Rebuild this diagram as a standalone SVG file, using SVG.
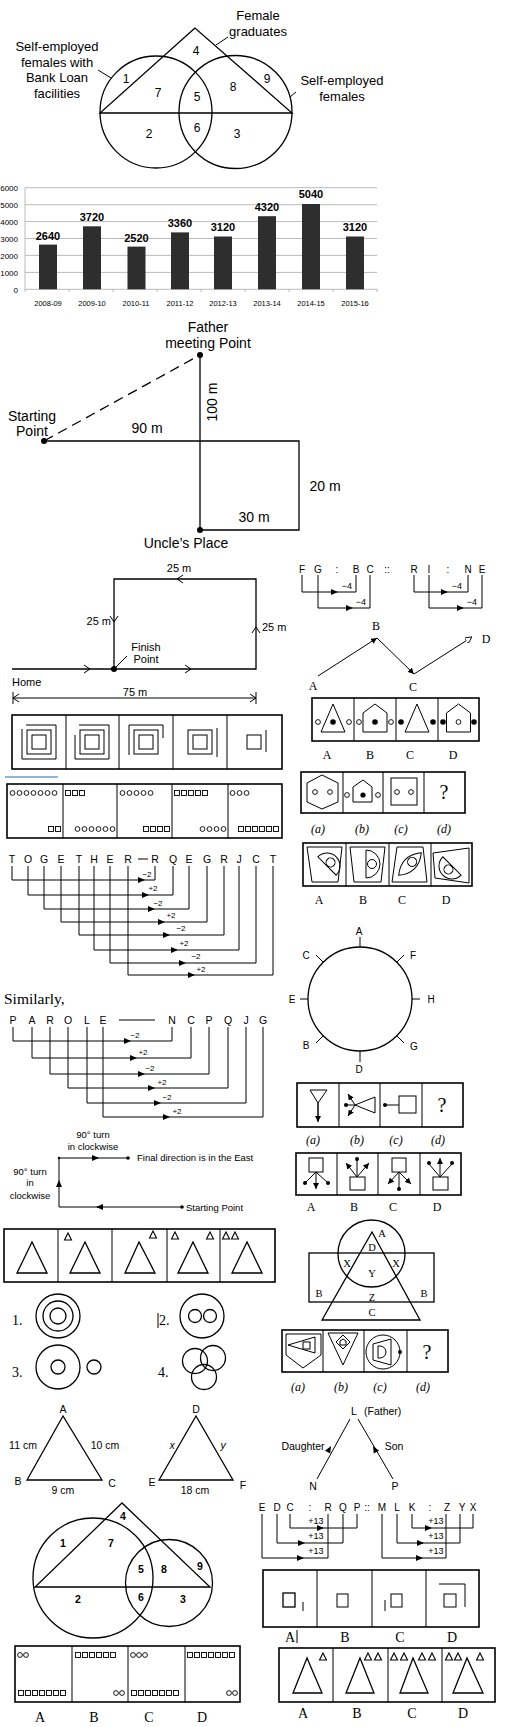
<svg xmlns="http://www.w3.org/2000/svg" width="505" height="1727" viewBox="0 0 505 1727">
<style>
.ln{fill:none;stroke:#000;stroke-width:1.3}
.th{fill:none;stroke:#000;stroke-width:1}
.bx{fill:none;stroke:#000;stroke-width:1.6}
.t{font-family:"Liberation Sans",Arial,sans-serif;fill:#000}
.s{font-family:"Liberation Serif","Times New Roman",serif;fill:#000}
.m{text-anchor:middle}
.e{text-anchor:end}
.grid{stroke:#aaa;stroke-width:0.8}
.bar{fill:#2e2e2e}
</style>
<defs>
<path id="ah" d="M0,0 L-7,-3 L-7,3 Z"/>
<path id="sd" d="M0,-4 L3.5,3 L-3.5,3 Z" fill="none" stroke="#000" stroke-width="1.1"/>
<circle id="oc" r="2.4" fill="none" stroke="#000" stroke-width="0.9"/>
<rect id="sq" x="-2.5" y="-2.5" width="5" height="5" fill="none" stroke="#000" stroke-width="0.9"/>
<marker id="mF" viewBox="0 0 10 10" refX="10" refY="5" markerWidth="6" markerHeight="6" orient="auto"><path d="M0,0 L10,5 L0,10 Z"/></marker>
<marker id="mO" viewBox="0 0 10 10" refX="10" refY="5" markerWidth="7" markerHeight="7" orient="auto"><path d="M0,0 L10,5 L0,10 Z" fill="#fff" stroke="#000" stroke-width="1.2"/></marker>
</defs>

<g id="venn1">
<polygon class="ln" points="195,28 100,113 292,113"/>
<circle class="ln" cx="156" cy="112" r="56"/>
<circle class="ln" cx="235.5" cy="112" r="56.5"/>
<line class="th" x1="216" y1="45" x2="228" y2="37"/>
<line class="th" x1="111" y1="78" x2="98" y2="70"/>
<line class="th" x1="290" y1="97" x2="296" y2="92"/>
<g class="t m" font-size="13">
<text x="258" y="20">Female</text><text x="258" y="36">graduates</text>
<text x="57" y="51">Self-employed</text><text x="57" y="67">females with</text><text x="57" y="82">Bank Loan</text><text x="57" y="98">facilities</text>
<text x="342" y="85">Self-employed</text><text x="342" y="101">females</text>
</g>
<g class="t m" font-size="12">
<text x="126" y="83">1</text><text x="158" y="97">7</text><text x="196" y="55">4</text><text x="197" y="101">5</text><text x="233" y="91">8</text><text x="267" y="83">9</text><text x="149" y="138">2</text><text x="197" y="132">6</text><text x="237" y="138">3</text>
</g>
</g>

<g id="barchart">
<g class="grid">
<line x1="25" y1="289.3" x2="377" y2="289.3"/><line x1="25" y1="272.4" x2="377" y2="272.4"/><line x1="25" y1="255.4" x2="377" y2="255.4"/><line x1="25" y1="238.5" x2="377" y2="238.5"/><line x1="25" y1="221.6" x2="377" y2="221.6"/><line x1="25" y1="204.7" x2="377" y2="204.7"/><line x1="25" y1="187.7" x2="377" y2="187.7"/>
<line x1="25" y1="187.7" x2="25" y2="292"/>
<path d="M69,289 V292 M113,289 V292 M157,289 V292 M201,289 V292 M245,289 V292 M289,289 V292 M333,289 V292 M377,289 V292"/>
</g>
<g class="t e" font-size="8" fill="#222">
<text x="18" y="191">6000</text><text x="18" y="207.5">5000</text><text x="18" y="224.5">4000</text><text x="18" y="241.5">3000</text><text x="18" y="258.5">2000</text><text x="18" y="275.5">1000</text><text x="18" y="292.5">0</text>
</g>
<g class="bar">
<rect x="39" y="244.6" width="18" height="44.7"/><rect x="83" y="226.3" width="18" height="63"/><rect x="127.5" y="246.6" width="18" height="42.7"/><rect x="171" y="232.4" width="18" height="56.9"/><rect x="214" y="236.5" width="18" height="52.8"/><rect x="258" y="216.2" width="18" height="73.1"/><rect x="302" y="204" width="18" height="85.3"/><rect x="346" y="236.5" width="18" height="52.8"/>
</g>
<g class="t m" font-size="11" font-weight="bold">
<text x="48" y="240">2640</text><text x="92" y="221">3720</text><text x="136.5" y="242">2520</text><text x="180" y="227">3360</text><text x="223" y="231">3120</text><text x="267" y="211">4320</text><text x="311" y="198">5040</text><text x="355" y="231">3120</text>
</g>
<g class="t m" font-size="7.5">
<text x="48" y="305.5">2008-09</text><text x="92" y="305.5">2009-10</text><text x="136" y="305.5">2010-11</text><text x="180" y="305.5">2011-12</text><text x="223" y="305.5">2012-13</text><text x="267" y="305.5">2013-14</text><text x="311" y="305.5">2014-15</text><text x="355" y="305.5">2015-16</text>
</g>
</g>

<g id="route1">
<path class="ln" d="M44,441 H299 V530 H200 M200,355 V530"/>
<line class="ln" x1="44" y1="441" x2="200" y2="355" stroke-dasharray="10,6"/>
<circle cx="44" cy="441" r="3"/><circle cx="200" cy="355" r="3"/><circle cx="200" cy="530" r="3"/>
<g class="t m" font-size="14">
<text x="208" y="332">Father</text><text x="208" y="348">meeting Point</text>
<text x="32" y="421">Starting</text><text x="32" y="436">Point</text>
<text x="147" y="433">90  m</text>
<text x="325" y="491">20  m</text><text x="254" y="522">30  m</text>
<text x="186" y="548">Uncle’s Place</text>
<text transform="translate(217,402) rotate(-90)">100  m</text>
</g>
</g>

<g id="route2">
<path class="ln" d="M12,669 H256 V579 H114 V669"/>
<circle cx="114" cy="669" r="3"/>
<polyline class="th" points="183,575 177,579 183,583"/>
<polyline class="th" points="110,616 114,622 118,616"/>
<polyline class="th" points="252,633 256,627 260,633"/>
<polyline class="th" points="84,665 90,669 84,673"/>
<polyline class="th" points="185,665 191,669 185,673"/>
<line class="th" x1="114" y1="669" x2="127" y2="656"/>
<path class="th" d="M13,698 H256 M13,692 V704 M256,692 V704"/>
<polyline class="th" points="19,694 13,698 19,702"/>
<polyline class="th" points="250,694 256,698 250,702"/>
<g class="t" font-size="11">
<text class="m" x="179" y="572">25 m</text>
<text class="e" x="111" y="625">25 m</text>
<text x="262" y="631">25 m</text>
<text class="m" x="146" y="651">Finish</text><text class="m" x="146" y="663">Point</text>
<text x="12" y="686">Home</text>
<text class="m" x="135" y="696">75 m</text>
</g>
</g>

<g id="analogy1">
<g class="t m" font-size="10" fill="#333">
<text x="302" y="573">F</text><text x="318" y="573">G</text><text x="337" y="573">:</text><text x="356" y="573">B</text><text x="370" y="573">C</text><text x="387" y="573">::</text><text x="414" y="573">R</text><text x="429" y="573">I</text><text x="448" y="573">:</text><text x="468" y="573">N</text><text x="482" y="573">E</text>
</g>
<path class="th" d="M302,575 V592 H356 V575 M318,575 V608 H370 V575 M414,575 V592 H468 V575 M429,575 V608 H482 V575"/>
<use href="#ah" x="338" y="592"/><use href="#ah" x="353" y="608"/><use href="#ah" x="448" y="592"/><use href="#ah" x="464" y="608"/>
<g class="t m" font-size="9">
<text x="347" y="589">−4</text><text x="361" y="605">−4</text><text x="457" y="589">−4</text><text x="472" y="605">−4</text>
</g>
</g>

<g id="zigzag">
<path class="th" d="M318,676 L377,638" marker-end="url(#mF)"/>
<path class="th" d="M377,638 L414,674" marker-end="url(#mF)"/>
<path class="th" d="M414,674 L472,637" marker-end="url(#mO)"/>
<g class="s m" font-size="12">
<text x="313" y="690">A</text><text x="376" y="630">B</text><text x="413" y="691">C</text><text x="486" y="643">D</text>
</g>
</g>

<g id="dotshapes">
<rect class="bx" x="312" y="698" width="167" height="43"/>
<path class="th" d="M354,698 V741 M396,698 V741 M438,698 V741"/>
<polygon class="th" points="333,704 321,732 345,732"/>
<use href="#oc" x="318" y="722"/><circle cx="333" cy="722" r="2.8"/><use href="#oc" x="349" y="722"/>
<polygon class="th" points="375,704 387,713 387,732 363,732 363,713"/>
<use href="#oc" x="359" y="722"/><circle cx="375" cy="722" r="2.8"/><use href="#oc" x="391" y="722"/>
<polygon class="th" points="417,704 405,732 429,732"/>
<circle cx="401" cy="722" r="2.8"/><circle cx="433" cy="722" r="2.8"/>
<polygon class="th" points="458.5,704 470.5,713 470.5,732 446.5,732 446.5,713"/>
<circle cx="443" cy="722" r="2.8"/><use href="#oc" x="458.5" y="722"/><circle cx="474" cy="722" r="2.8"/>
<g class="s m" font-size="12"><text x="327" y="759">A</text><text x="370" y="759">B</text><text x="410" y="759">C</text><text x="453" y="759">D</text></g>
</g>

<g id="spirals">
<rect class="bx" x="12" y="715" width="270" height="54"/>
<path class="th" d="M66,715 V769 M119,715 V769 M173,715 V769 M227,715 V769"/>
<g class="th">
<rect x="32" y="735" width="14" height="14"/><rect x="27" y="730" width="24" height="24"/><path d="M22,729 V759 H56 V725 H26"/>
<rect x="85" y="735" width="14" height="14"/><rect x="80" y="730" width="24" height="24"/><path d="M75,735 V759 H109 V725 H79"/>
<rect x="139" y="735" width="14" height="14"/><rect x="134" y="730" width="24" height="24"/><path d="M129,755 V725 H163 V738"/>
<rect x="193" y="735" width="14" height="14"/><rect x="188" y="730" width="24" height="24"/><path d="M217,728 V757"/>
<rect x="247" y="735" width="14" height="14"/><path d="M266,730 V752"/>
</g>
</g>

<line x1="5" y1="777" x2="58" y2="777" stroke="#8fb6d9" stroke-width="2"/>

<g id="dotrow1">
<rect class="bx" x="7" y="784" width="275" height="54"/>
<path class="th" d="M63,784 V838 M117,784 V838 M172,784 V838 M228,784 V838"/>
<use href="#oc" x="12.5" y="793"/><use href="#oc" x="19.5" y="793"/><use href="#oc" x="26.5" y="793"/><use href="#oc" x="33.5" y="793"/><use href="#oc" x="40.5" y="793"/><use href="#oc" x="47.5" y="793"/><use href="#oc" x="54.5" y="793"/>
<use href="#sq" x="51" y="829"/><use href="#sq" x="58" y="829"/>
<use href="#sq" x="68" y="793"/><use href="#sq" x="75" y="793"/><use href="#sq" x="82" y="793"/>
<use href="#oc" x="77.5" y="829"/><use href="#oc" x="84.5" y="829"/><use href="#oc" x="91.5" y="829"/><use href="#oc" x="98.5" y="829"/><use href="#oc" x="105.5" y="829"/><use href="#oc" x="112.5" y="829"/>
<use href="#oc" x="122.5" y="793"/><use href="#oc" x="129.5" y="793"/><use href="#oc" x="136.5" y="793"/><use href="#oc" x="143.5" y="793"/><use href="#oc" x="150.5" y="793"/>
<use href="#sq" x="146" y="829"/><use href="#sq" x="153" y="829"/><use href="#sq" x="160" y="829"/><use href="#sq" x="167" y="829"/>
<use href="#sq" x="177" y="793"/><use href="#sq" x="184" y="793"/><use href="#sq" x="191" y="793"/><use href="#sq" x="198" y="793"/><use href="#sq" x="205" y="793"/>
<use href="#oc" x="202.5" y="829"/><use href="#oc" x="209.5" y="829"/><use href="#oc" x="216.5" y="829"/><use href="#oc" x="223.5" y="829"/>
<use href="#oc" x="232.5" y="793"/><use href="#oc" x="239.5" y="793"/><use href="#oc" x="246.5" y="793"/>
<use href="#sq" x="241" y="829"/><use href="#sq" x="248" y="829"/><use href="#sq" x="255" y="829"/><use href="#sq" x="262" y="829"/><use href="#sq" x="269" y="829"/><use href="#sq" x="276" y="829"/>
</g>

<g id="together">
<g class="t m" font-size="10.5" fill="#222">
<text x="12" y="863">T</text><text x="28" y="863">O</text><text x="44" y="863">G</text><text x="61" y="863">E</text><text x="79" y="863">T</text><text x="94" y="863">H</text><text x="110" y="863">E</text><text x="128" y="863">R</text><text x="155" y="863">R</text><text x="173" y="863">Q</text><text x="189" y="863">E</text><text x="207" y="863">G</text><text x="224" y="863">R</text><text x="239" y="863">J</text><text x="256" y="863">C</text><text x="273" y="863">T</text>
</g>
<line class="th" x1="138" y1="859" x2="148" y2="859"/>
<path class="th" d="M12,866 V880 H155 V866 M28,866 V895 H173 V866 M44,866 V909 H189 V866 M61,866 V922 H207 V866 M79,866 V935 H224 V866 M94,866 V950 H239 V866 M110,866 V963 H256 V866 M128,866 V975 H273 V866"/>
<use href="#ah" x="145" y="880"/><use href="#ah" x="149" y="895"/><use href="#ah" x="155" y="909"/><use href="#ah" x="165" y="922"/><use href="#ah" x="170" y="935"/><use href="#ah" x="178" y="950"/><use href="#ah" x="186" y="963"/><use href="#ah" x="195" y="975"/>
<g class="t m" font-size="8">
<text x="147" y="877">−2</text><text x="153" y="891">+2</text><text x="158" y="906">−2</text><text x="171" y="918">+2</text><text x="181" y="931">−2</text><text x="184" y="946">+2</text><text x="196" y="959">−2</text><text x="201" y="972">+2</text>
</g>
</g>

<text class="s" x="4" y="1004" font-size="15.5">Similarly,</text>

<g id="parole">
<g class="t m" font-size="10.5" fill="#222">
<text x="13" y="1024">P</text><text x="32" y="1024">A</text><text x="50" y="1024">R</text><text x="68" y="1024">O</text><text x="87" y="1024">L</text><text x="103" y="1024">E</text><text x="172" y="1024">N</text><text x="191" y="1024">C</text><text x="209" y="1024">P</text><text x="228" y="1024">Q</text><text x="246" y="1024">J</text><text x="263" y="1024">G</text>
</g>
<line class="th" x1="119" y1="1020" x2="155" y2="1020"/>
<path class="th" d="M13,1027 V1041 H172 V1027 M32,1027 V1058 H191 V1027 M50,1027 V1074 H209 V1027 M68,1027 V1088 H228 V1027 M87,1027 V1103 H246 V1027 M103,1027 V1117 H263 V1027"/>
<use href="#ah" x="131" y="1041"/><use href="#ah" x="137" y="1058"/><use href="#ah" x="145" y="1074"/><use href="#ah" x="155" y="1088"/><use href="#ah" x="161" y="1103"/><use href="#ah" x="170" y="1117"/>
<g class="t m" font-size="8">
<text x="135" y="1038">−2</text><text x="143" y="1055">+2</text><text x="150" y="1071">−2</text><text x="162" y="1085">+2</text><text x="167" y="1100">−2</text><text x="177" y="1114">+2</text>
</g>
</g>

<g id="turns">
<path class="th" d="M128,1158 H59 V1207 H182"/>
<circle cx="128" cy="1158" r="1.8"/><circle cx="182" cy="1207" r="1.8"/><circle cx="59" cy="1158" r="1.2"/>
<use href="#ah" x="99" y="1158"/>
<use href="#ah" transform="translate(59,1180) rotate(-90)"/>
<use href="#ah" transform="translate(96,1207) rotate(180)"/>
<g class="t" font-size="9.5" fill="#222">
<text class="m" x="93" y="1138">90° turn</text><text class="m" x="93" y="1150">in clockwise</text>
<text x="137" y="1161">Final direction is in the East</text>
<text class="m" x="30" y="1175">90° turn</text><text class="m" x="30" y="1186">in</text><text class="m" x="30" y="1199">clockwise</text>
<text x="186" y="1211">Starting Point</text>
</g>
</g>

<g id="trirow">
<rect class="bx" x="4" y="1229" width="271" height="53"/>
<path class="th" d="M58,1229 V1282 M112,1229 V1282 M167,1229 V1282 M220,1229 V1282"/>
<g class="ln">
<polygon points="32,1242 17,1273 47,1273"/>
<polygon points="85,1242 70,1273 100,1273"/>
<polygon points="139,1242 125,1273 155,1273"/>
<polygon points="193,1242 178,1273 208,1273"/>
<polygon points="247,1242 232,1273 262,1273"/>
</g>
<use href="#sd" x="68" y="1237"/><use href="#sd" x="153" y="1235"/><use href="#sd" x="175" y="1236"/><use href="#sd" x="210" y="1236"/><use href="#sd" x="226" y="1236"/><use href="#sd" x="235" y="1236"/>
</g>

<g id="circles4">
<g class="s" font-size="14"><text x="12" y="1325">1.</text><text x="159" y="1325">2.</text><text x="12" y="1377">3.</text><text x="158" y="1377">4.</text></g>
<line class="th" x1="158" y1="1313" x2="158" y2="1328"/>
<g class="ln">
<circle cx="58" cy="1316" r="22"/><circle cx="58" cy="1316" r="15"/><circle cx="58" cy="1316" r="8"/>
<circle cx="202" cy="1316" r="22"/><circle cx="195" cy="1316" r="6.5"/><circle cx="210" cy="1316" r="6.5"/>
<circle cx="58" cy="1367" r="22"/><circle cx="58" cy="1367" r="7"/><circle cx="94" cy="1367" r="7"/>
<circle cx="195" cy="1361" r="12.5"/><circle cx="213" cy="1358" r="12.5"/><circle cx="204" cy="1377" r="12.5"/>
</g>
</g>

<g id="tri2">
<polygon class="ln" points="63,1416 27,1480 102,1480"/>
<polygon class="ln" points="196,1416 159,1480 233,1480"/>
<g class="t m" font-size="10.5">
<text x="63" y="1413">A</text><text x="18" y="1485">B</text><text x="112" y="1487">C</text><text x="23" y="1449">11 cm</text><text x="105" y="1449">10 cm</text><text x="63" y="1494">9 cm</text>
<text x="196" y="1413">D</text><text x="152" y="1486">E</text><text x="243" y="1489">F</text><text x="195" y="1494">18 cm</text>
<text x="172" y="1449" font-style="italic">x</text><text x="223" y="1449" font-style="italic">y</text>
</g>
</g>

<g id="venn2">
<polygon class="ln" points="122,1503 35,1587 210,1587"/>
<circle class="ln" cx="93" cy="1578" r="60"/>
<circle class="ln" cx="169" cy="1583" r="43.5"/>
<g class="t m" font-size="10.5" font-weight="bold">
<text x="63" y="1547">1</text><text x="111" y="1547">7</text><text x="123" y="1520">4</text><text x="141" y="1573">5</text><text x="164" y="1573">8</text><text x="200" y="1570">9</text><text x="78" y="1603">2</text><text x="141" y="1601">6</text><text x="183" y="1603">3</text>
</g>
</g>

<g id="dotrow2">
<rect class="bx" x="15" y="1646" width="225" height="56"/>
<path class="th" d="M72,1646 V1702 M128,1646 V1702 M185,1646 V1702"/>
<use href="#oc" x="20" y="1655"/><use href="#oc" x="26" y="1655"/>
<use href="#sq" x="21" y="1693"/><use href="#sq" x="28" y="1693"/><use href="#sq" x="35" y="1693"/><use href="#sq" x="42" y="1693"/><use href="#sq" x="49" y="1693"/><use href="#sq" x="56" y="1693"/><use href="#sq" x="63" y="1693"/>
<use href="#sq" x="78" y="1655"/><use href="#sq" x="85" y="1655"/><use href="#sq" x="92" y="1655"/><use href="#sq" x="99" y="1655"/><use href="#sq" x="106" y="1655"/><use href="#sq" x="113" y="1655"/>
<use href="#oc" x="116" y="1693"/><use href="#oc" x="122" y="1693"/>
<use href="#oc" x="133" y="1655"/><use href="#oc" x="139" y="1655"/><use href="#oc" x="145" y="1655"/>
<use href="#sq" x="134" y="1693"/><use href="#sq" x="141" y="1693"/><use href="#sq" x="148" y="1693"/><use href="#sq" x="155" y="1693"/><use href="#sq" x="162" y="1693"/><use href="#sq" x="169" y="1693"/><use href="#sq" x="176" y="1693"/>
<use href="#sq" x="190" y="1655"/><use href="#sq" x="197" y="1655"/><use href="#sq" x="204" y="1655"/><use href="#sq" x="211" y="1655"/><use href="#sq" x="218" y="1655"/><use href="#sq" x="225" y="1655"/><use href="#sq" x="232" y="1655"/>
<use href="#oc" x="229" y="1693"/><use href="#oc" x="235" y="1693"/>
<g class="s m" font-size="14"><text x="40" y="1722">A</text><text x="94" y="1722">B</text><text x="149" y="1722">C</text><text x="202" y="1722">D</text></g>
</g>

<g id="hexrow">
<rect class="bx" x="301" y="772" width="164" height="41"/>
<path class="th" d="M343,772 V813 M383,772 V813 M424,772 V813"/>
<polygon class="th" points="322,775 338,783 338,802 322,809 307,802 307,783"/>
<use href="#oc" x="315" y="792"/><use href="#oc" x="330" y="792"/>
<polygon class="th" points="363,780 372,787 372,802 353,802 353,787"/>
<circle cx="363" cy="795" r="2.6"/><use href="#oc" x="347" y="795"/><use href="#oc" x="378" y="795"/>
<rect class="th" x="391" y="778" width="26" height="27"/>
<use href="#oc" x="397" y="792"/><use href="#oc" x="411" y="792"/>
<text class="s m" x="444" y="799" font-size="20">?</text>
<g class="s m" font-size="12" font-style="italic"><text x="318" y="833">(a)</text><text x="362" y="833">(b)</text><text x="401" y="833">(c)</text><text x="444" y="833">(d)</text></g>
</g>

<g id="eyerow">
<rect class="bx" x="303" y="843" width="169" height="43"/>
<path class="th" d="M346,843 V886 M389,843 V886 M431,843 V886"/>
<g class="th">
<polygon points="307,847 342,847 338,882 312,882"/>
<polygon points="350,847 385,847 381,882 354,882"/>
<polygon points="397,847 423,847 427,882 392,882"/>
<polygon points="433,853 469,848 469,883 435,878"/>
<g transform="translate(327,866) rotate(45)"><path d="M-13,0 A13,13 0 0 1 13,0 Z"/><circle cx="0" cy="-5" r="4.5"/></g>
<g transform="translate(366,864) rotate(90)"><path d="M-14,0 A14,14 0 0 1 14,0 Z"/><circle cx="0" cy="-6" r="4.5"/></g>
<g transform="translate(410,864) rotate(-45)"><path d="M-16,0 Q0,-13 16,0 Q0,13 -16,0 Z"/><circle cx="3" cy="0" r="4.5"/></g>
<g transform="translate(452,866) rotate(-135)"><path d="M-13,0 A13,13 0 0 1 13,0 Z"/><circle cx="0" cy="-5" r="4.5"/></g>
</g>
<g class="s m" font-size="12"><text x="319" y="904">A</text><text x="363" y="904">B</text><text x="402" y="904">C</text><text x="446" y="904">D</text></g>
</g>

<g id="ring">
<circle class="ln" cx="360" cy="999" r="52"/>
<path class="th" d="M360,947 V937 M323,962 L316,955 M397,962 L404,955 M308,999 H300 M412,999 H420 M323,1036 L316,1043 M397,1036 L404,1043 M360,1051 V1062"/>
<g class="t m" font-size="10">
<text x="359" y="935">A</text><text x="306" y="959">C</text><text x="413" y="959">F</text><text x="292" y="1003">E</text><text x="431" y="1003">H</text><text x="306" y="1049">B</text><text x="414" y="1050">G</text><text x="359" y="1073">D</text>
</g>
</g>

<g id="arrowfigs">
<rect class="bx" x="297" y="1083" width="166" height="44"/>
<path class="th" d="M339,1083 V1127 M380,1083 V1127 M422,1083 V1127"/>
<path class="th" d="M310,1090 H327 L318,1103 Z M318,1103 V1121" />
<path class="th" d="M318,1103 V1122" marker-end="url(#mF)"/>
<path class="th" d="M375,1097 V1113 L355,1105 Z M355,1105 H346"/>
<circle cx="346" cy="1105" r="2"/>
<path class="th" d="M355,1105 L348,1094" marker-end="url(#mF)"/>
<path class="th" d="M355,1105 L348,1116" marker-end="url(#mF)"/>
<circle cx="385" cy="1105" r="2"/>
<path class="th" d="M385,1105 H399"/>
<rect class="th" x="399" y="1096" width="17" height="17"/>
<text class="s m" x="442" y="1112" font-size="20">?</text>
<g class="s m" font-size="12" font-style="italic"><text x="313" y="1144">(a)</text><text x="357" y="1144">(b)</text><text x="396" y="1144">(c)</text><text x="438" y="1144">(d)</text></g>
</g>

<g id="arrowopts">
<rect class="bx" x="296" y="1153" width="165" height="42"/>
<path class="th" d="M337,1153 V1195 M378,1153 V1195 M420,1153 V1195"/>
<rect class="th" x="309" y="1158" width="14" height="14"/>
<path class="th" d="M316,1172 L305,1183 M316,1172 L328,1183"/>
<path class="th" d="M316,1172 V1189" marker-end="url(#mF)"/>
<circle cx="305" cy="1183" r="2"/><circle cx="328" cy="1183" r="2"/>
<rect class="th" x="350" y="1177" width="15" height="13"/>
<path class="th" d="M357,1177 V1160"/><circle cx="357" cy="1159" r="2"/>
<path class="th" d="M357,1177 L346,1163" marker-end="url(#mF)"/>
<path class="th" d="M357,1177 L369,1163" marker-end="url(#mF)"/>
<rect class="th" x="392" y="1158" width="14" height="14"/>
<path class="th" d="M399,1172 V1188"/><circle cx="399" cy="1189" r="2"/>
<path class="th" d="M399,1172 L388,1184" marker-end="url(#mF)"/>
<path class="th" d="M399,1172 L411,1184" marker-end="url(#mF)"/>
<rect class="th" x="433" y="1177" width="15" height="13"/>
<path class="th" d="M440,1177 L429,1164 M440,1177 L452,1164"/>
<circle cx="429" cy="1163" r="2"/><circle cx="452" cy="1163" r="2"/>
<path class="th" d="M440,1177 V1158" marker-end="url(#mF)"/>
<g class="s m" font-size="12"><text x="311" y="1211">A</text><text x="354" y="1211">B</text><text x="393" y="1211">C</text><text x="437" y="1211">D</text></g>
</g>

<g id="venn3">
<rect class="ln" x="309" y="1253" width="125" height="49"/>
<circle class="ln" cx="371.5" cy="1253.5" r="33.5"/>
<polygon class="ln" points="372,1232 322,1320 420,1320"/>
<g class="s m" font-size="10.5">
<text x="382" y="1237">A</text><text x="372" y="1251">D</text><text x="347" y="1267">X</text><text x="396" y="1267">X</text><text x="372" y="1277">Y</text><text x="319" y="1297">B</text><text x="424" y="1297">B</text><text x="372" y="1301">Z</text><text x="372" y="1316">C</text>
</g>
</g>

<g id="shapefigs">
<rect class="bx" x="282" y="1330" width="166" height="42"/>
<path class="th" d="M323,1330 V1372 M364,1330 V1372 M407,1330 V1372"/>
<polygon class="th" points="286,1334 321,1334 321,1355 303,1368 286,1355"/>
<polygon class="th" points="288,1345 315,1337 315,1353"/>
<rect class="th" x="303" y="1342" width="7" height="7"/>
<polygon class="th" points="328,1333 358,1333 343,1365"/>
<polygon class="th" points="343,1335 350,1342 343,1349 336,1342"/>
<polygon class="th" points="343,1339 346,1341 346,1345 340,1345 340,1341"/>
<circle class="th" cx="383" cy="1352" r="17"/>
<polygon class="th" points="373,1344 391,1339 391,1365 373,1360"/>
<path class="th" d="M378,1346 V1358 H380 A6,6 0 0 0 380,1346 Z"/>
<circle cx="400" cy="1352" r="2"/>
<text class="s m" x="427" y="1359" font-size="20">?</text>
<g class="s m" font-size="12" font-style="italic"><text x="298" y="1391">(a)</text><text x="341" y="1391">(b)</text><text x="380" y="1391">(c)</text><text x="423" y="1391">(d)</text></g>
</g>

<g id="family">
<path class="th" d="M350,1419 L317,1479 M358,1419 L393,1479"/>
<use href="#ah" transform="translate(331,1446) rotate(-61)"/>
<use href="#ah" transform="translate(373,1446) rotate(-119)"/>
<g class="t" font-size="10.5">
<text class="m" x="354" y="1415">L</text><text x="364" y="1415">(Father)</text>
<text class="m" x="303" y="1450">Daughter</text><text class="m" x="394" y="1450">Son</text>
<text class="m" x="313" y="1490">N</text><text class="m" x="395" y="1490">P</text>
</g>
</g>

<g id="analogy2">
<g class="t m" font-size="10" fill="#222">
<text x="262" y="1511">E</text><text x="277" y="1511">D</text><text x="290" y="1511">C</text><text x="310" y="1511">:</text><text x="328" y="1511">R</text><text x="343" y="1511">Q</text><text x="357" y="1511">P</text><text x="367" y="1511">::</text><text x="382" y="1511">M</text><text x="397" y="1511">L</text><text x="412" y="1511">K</text><text x="430" y="1511">:</text><text x="447" y="1511">Z</text><text x="462" y="1511">Y</text><text x="473" y="1511">X</text>
</g>
<path class="th" d="M290,1514 V1528 H357 V1514 M277,1514 V1543 H343 V1514 M262,1514 V1558 H328 V1514 M412,1514 V1528 H473 V1514 M397,1514 V1543 H460 V1514 M382,1514 V1558 H446 V1514"/>
<use href="#ah" x="324" y="1528"/><use href="#ah" x="305" y="1543"/><use href="#ah" x="304" y="1558"/><use href="#ah" x="432" y="1528"/><use href="#ah" x="424" y="1543"/><use href="#ah" x="423" y="1558"/>
<g class="t m" font-size="9">
<text x="316" y="1524">+13</text><text x="316" y="1539">+13</text><text x="316" y="1554">+13</text><text x="436" y="1524">+13</text><text x="436" y="1539">+13</text><text x="436" y="1554">+13</text>
</g>
</g>

<g id="sqopts">
<rect class="bx" x="263" y="1570" width="216" height="57"/>
<path class="th" d="M317,1570 V1627 M372,1570 V1627 M426,1570 V1627"/>
<rect class="ln" x="283" y="1593" width="12" height="14"/><path class="th" d="M303,1602 V1611"/>
<rect class="th" x="337" y="1594" width="11" height="13"/>
<rect class="th" x="391" y="1594" width="11" height="13"/><path class="th" d="M385,1600 V1611"/>
<rect class="th" x="444" y="1594" width="12" height="13"/><path class="th" d="M439,1584 H465 V1607"/>
<g class="s m" font-size="14"><text x="290" y="1642">A</text><text x="345" y="1642">B</text><text x="400" y="1642">C</text><text x="452" y="1642">D</text></g>
<line class="th" x1="297" y1="1630" x2="297" y2="1643"/>
</g>

<g id="triopts">
<rect class="bx" x="279" y="1648" width="216" height="54"/>
<path class="th" d="M333,1648 V1702 M388,1648 V1702 M442,1648 V1702"/>
<g class="ln">
<polygon points="307,1658 293,1693 322,1693"/>
<polygon points="360,1658 346,1693 374,1693"/>
<polygon points="413,1658 400,1693 428,1693"/>
<polygon points="467,1658 453,1693 483,1693"/>
</g>
<use href="#sd" x="323" y="1657"/><use href="#sd" x="368" y="1657"/><use href="#sd" x="378" y="1657"/><use href="#sd" x="394" y="1657"/><use href="#sd" x="404" y="1657"/><use href="#sd" x="422" y="1657"/><use href="#sd" x="432" y="1657"/><use href="#sd" x="449" y="1657"/><use href="#sd" x="458" y="1657"/><use href="#sd" x="480" y="1657"/>
<g class="s m" font-size="14"><text x="303" y="1718">A</text><text x="357" y="1718">B</text><text x="412" y="1718">C</text><text x="463" y="1718">D</text></g>
</g>
</svg>
